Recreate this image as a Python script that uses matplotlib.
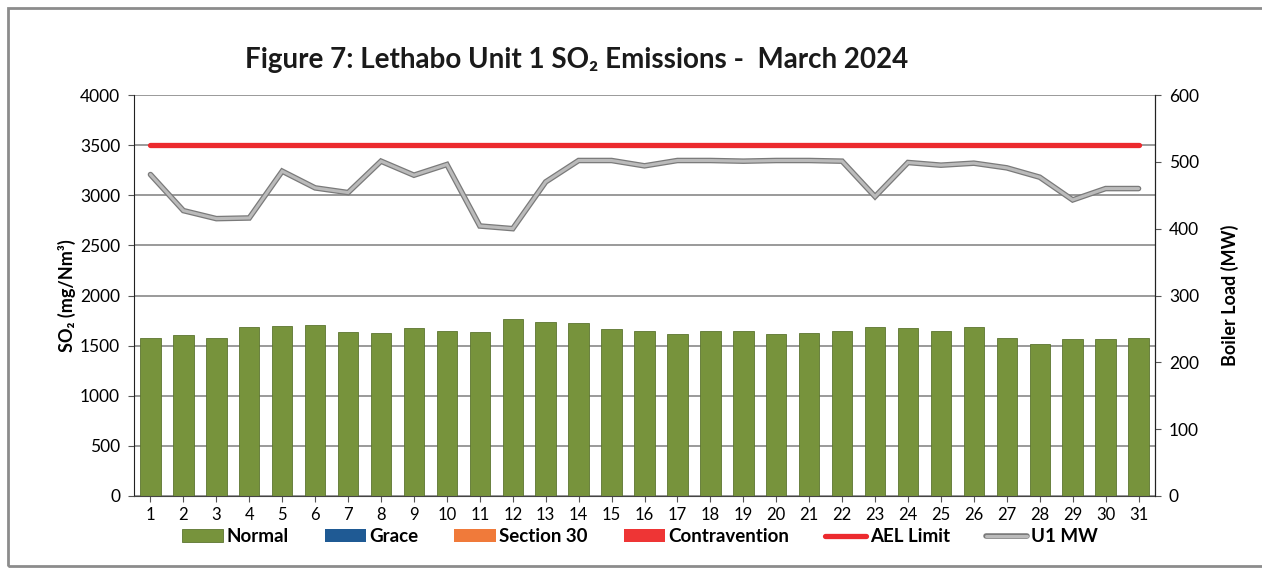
import matplotlib
matplotlib.use("Agg")
import matplotlib.pyplot as plt
import matplotlib.patheffects as pe
from matplotlib.patches import Rectangle
import numpy as np

plt.rcParams['font.family'] = ['Lato', 'DejaVu Sans']

days = list(range(1, 32))
so2_normal = [1577, 1610, 1573, 1683, 1693, 1707, 1633, 1627, 1673, 1650,
              1640, 1767, 1733, 1730, 1663, 1650, 1620, 1643, 1643, 1613,
              1625, 1643, 1683, 1673, 1650, 1683, 1575, 1517, 1568, 1570, 1572]
so2_grace = [0] * 31
so2_section30 = [0] * 31
so2_contravention = [0] * 31
ael_limit = [3500] * 31
u1_mw = [481, 427, 415, 416, 486, 461, 454, 501, 480, 496,
         404, 400, 470, 502, 502, 494, 502, 502, 501, 502,
         502, 501, 448, 499, 495, 498, 491, 477, 443, 460, 460]

fig = plt.figure(figsize=(12.62, 5.73), dpi=100)
ax = fig.add_axes([134 / 1262, 1 - 496 / 573, (1155 - 134) / 1262, 401 / 573])
ax2 = ax.twinx()

x = np.array(days)
w = 0.62
b1 = ax.bar(x, so2_normal, w, color='#77933C', edgecolor='#5C7530', linewidth=0.6, zorder=2)
bottom = np.array(so2_normal)
b2 = ax.bar(x, so2_grace, w, bottom=bottom, color='#1F5A94', linewidth=0, zorder=2)
bottom = bottom + np.array(so2_grace)
b3 = ax.bar(x, so2_section30, w, bottom=bottom, color='#F07A3A', linewidth=0, zorder=2)
bottom = bottom + np.array(so2_section30)
b4 = ax.bar(x, so2_contravention, w, bottom=bottom, color='#EE3535', linewidth=0, zorder=2)
l1, = ax.plot(x, ael_limit, color='#EC2A2E', lw=3.8, solid_capstyle='round', zorder=3)

l2, = ax2.plot(x, u1_mw, color='#BBBBBB', lw=2.2, solid_capstyle='round', solid_joinstyle='miter',
               path_effects=[pe.Stroke(linewidth=4.0, foreground='#7A7A7A'), pe.Normal()])

ax.set_xlim(0.5, 31.5)
ax.set_ylim(0, 4000)
ax.set_yticks(range(0, 4001, 500))
ax2.set_ylim(0, 600)
ax2.set_yticks(range(0, 601, 100))
ax.set_xticks(days)
ax.set_xticklabels([str(d) for d in days])

ax.grid(axis='y', color='#7F7F7F', lw=1.1, zorder=0)
ax.set_axisbelow(True)
for a in (ax, ax2):
    a.spines['top'].set_visible(False)
ax.spines['left'].set_color('#222222')
ax.spines['bottom'].set_color('#444444')
ax2.spines['right'].set_color('#222222')
ax2.spines['left'].set_visible(False)
ax2.spines['bottom'].set_visible(False)

ax.tick_params(axis='y', labelsize=12.5, length=4, color='#555555', pad=6)
ax.tick_params(axis='x', labelsize=12, length=4, color='#555555', pad=4)
ax2.tick_params(axis='y', labelsize=12.5, length=4, color='#555555', pad=6)

ax.set_ylabel('SO\u2082 (mg/Nm\u00b3)', fontsize=13, fontweight='bold', labelpad=3)
ax2.set_ylabel('Boiler Load (MW)', fontsize=13, fontweight='bold', labelpad=16)

fig.text(0.457, 0.895, 'Figure 7: Lethabo Unit 1 SO\u2082 Emissions -  March 2024',
         ha='center', va='center', fontsize=20, fontweight='bold', color='#1a1a1a')

fig.legend([b1, b2, b3, b4, l1, l2],
           ['Normal', 'Grace', 'Section 30', 'Contravention', 'AEL Limit', 'U1 MW'],
           loc='center', bbox_to_anchor=(0.507, 0.063), ncol=6,
           frameon=False, handlelength=2.2, columnspacing=1.9, handletextpad=0.2,
           prop={'weight': 'bold', 'size': 13.5})

fig.patches.append(Rectangle((8 / 1262, 7 / 573), 1.1, 1 - 15 / 573, transform=fig.transFigure,
                             fill=False, edgecolor='#8C8C8C', lw=2))

fig.savefig('out.png', dpi=100)
